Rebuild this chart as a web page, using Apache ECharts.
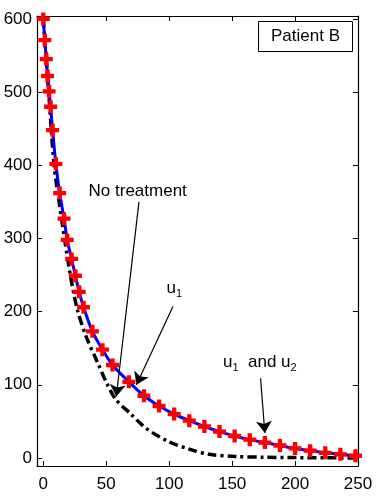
<!DOCTYPE html>
<html>
<head>
<meta charset="utf-8">
<script src="https://cdn.jsdelivr.net/npm/echarts@6/dist/echarts.min.js"></script>
<style>
  html, body { margin: 0; padding: 0; background: #fff; }
  #chart { width: 383px; height: 500px; }
</style>
</head>
<body>
<div id="chart"></div>
<script>
var chart = echarts.init(document.getElementById("chart"));

// time points of the treated curve (markers)
let tTreated = [0, 1.2, 2.4, 3.4, 4.6, 5.8, 7.4, 10, 13, 16.5, 19, 22.5, 25.5, 28.5, 32, 39, 47, 55,
  68, 80, 92, 104, 116, 128, 140, 152, 164, 176, 188, 200, 212, 224, 236, 248];
// u1 and u1+u2 curves coincide
let cellsTreated = [600, 571, 545, 522, 501, 480, 448, 402, 362, 327, 298, 272, 249, 227, 206, 173, 148, 127,
  104, 85, 71, 60, 51, 43, 36, 30, 25, 21, 17, 13, 10, 7, 5, 3];

// no treatment curve
let tNone = [0, 4, 8.6, 13, 17, 22, 27, 34, 43.5, 51, 58, 69, 82, 100, 116, 132, 153, 175, 200, 225, 250];
let cellsNone = [600, 506, 400, 345, 298, 245, 203, 166, 129, 100, 79, 61, 40, 22, 12, 5, 2, 1, 0.5, 0.2, 0];

let xTicks = [0, 50, 100, 150, 200, 250];
let yTicks = [0, 100, 200, 300, 400, 500, 600];

// annotations: [text, text pos, arrow start, arrow tip] in data coords
let notes = [
  ["No treatment", [75, 365], [76, 350], [58, 84]],
  ["u{s|1}", [104, 232], [103, 207], [74, 100]],
  ["u{s|1}  and u{s|2}", [172, 131], [172.6, 109], [176, 34]]
];

function zip(a, b) {
  return a.map(function (v, i) { return [v, b[i]]; });
}

var plus = "path://M4,0H8V4H12V8H8V12H4V8H0V4H4Z";
var font = "Liberation Sans";

var axisCommon = {
  axisLine: { show: true, onZero: false, lineStyle: { color: "#000", width: 1.2 } },
  axisTick: { show: true, inside: true, length: 5, lineStyle: { color: "#000" } },
  splitLine: { show: false }
};

chart.setOption({
  animation: false,
  grid: { left: 37, right: 25, top: 16, bottom: 34 },
  xAxis: [
    Object.assign({}, axisCommon, {
      type: "value", min: -5, max: 250,
      axisTick: Object.assign({}, axisCommon.axisTick, { customValues: xTicks }),
      axisLabel: { customValues: xTicks, color: "#000", fontFamily: font, fontSize: 17, margin: 10 }
    }),
    Object.assign({}, axisCommon, {
      type: "value", min: -5, max: 250, position: "top",
      axisTick: Object.assign({}, axisCommon.axisTick, { customValues: xTicks }),
      axisLabel: { show: false }
    })
  ],
  yAxis: [
    Object.assign({}, axisCommon, {
      type: "value", min: -11, max: 604,
      axisTick: Object.assign({}, axisCommon.axisTick, { customValues: yTicks }),
      axisLabel: { customValues: yTicks, color: "#000", fontFamily: font, fontSize: 17, margin: 5 }
    }),
    Object.assign({}, axisCommon, {
      type: "value", min: -11, max: 604, position: "right",
      axisTick: Object.assign({}, axisCommon.axisTick, { customValues: yTicks }),
      axisLabel: { show: false }
    })
  ],
  series: [
    {
      name: "No treatment",
      type: "line",
      data: zip(tNone, cellsNone),
      smooth: 0.3,
      showSymbol: false,
      lineStyle: { color: "#000", width: 3.5, type: [9, 4, 3, 4] },
      z: 2
    },
    {
      name: "u1",
      type: "line",
      data: zip(tTreated, cellsTreated),
      smooth: 0.3,
      showSymbol: false,
      lineStyle: { color: "#0000ff", width: 3 },
      z: 3
    },
    {
      name: "u1 and u2",
      type: "scatter",
      data: zip(tTreated, cellsTreated),
      symbol: plus,
      symbolSize: 13,
      itemStyle: { color: "#ff0000", opacity: 1 },
      z: 4
    },
    {
      name: "notes",
      type: "line",
      data: [],
      markLine: {
        silent: true,
        symbol: ["none", "arrow"],
        symbolSize: 12,
        lineStyle: { color: "#000", width: 1.2, type: "solid" },
        label: { show: false },
        data: notes.map(function (n) {
          return [{ coord: n[2] }, { coord: n[3] }];
        })
      },
      markPoint: {
        silent: true,
        symbol: "circle",
        symbolSize: 1,
        itemStyle: { color: "rgba(0,0,0,0)" },
        label: {
          show: true,
          position: "inside",
          color: "#000",
          fontFamily: font,
          fontSize: 17,
          rich: {
            s: { fontSize: 11, fontFamily: font, color: "#000", padding: [12, 0, 0, 0] }
          }
        },
        data: notes.map(function (n) {
          return { coord: n[1], value: n[0], label: { formatter: n[0] } };
        })
      },
      z: 5
    }
  ],
  graphic: [
    {
      type: "group",
      left: 258,
      top: 21,
      children: [
        { type: "rect", shape: { x: 0, y: 0, width: 94, height: 30 },
          style: { fill: "#fff", stroke: "#000", lineWidth: 1 } },
        { type: "text", x: 47, y: 15,
          style: { text: "Patient B", fill: "#000", font: "17px " + font, align: "center", verticalAlign: "middle" } }
      ]
    }
  ]
});
</script>
</body>
</html>
